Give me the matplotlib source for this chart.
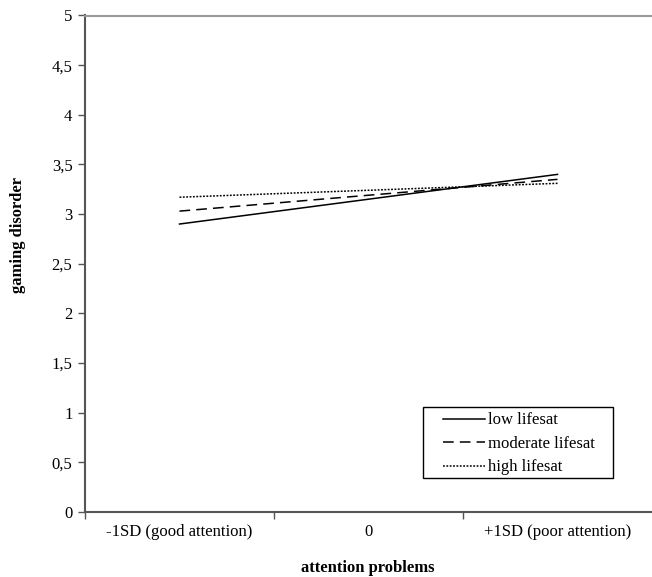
import matplotlib
matplotlib.use("Agg")
import matplotlib.pyplot as plt
from matplotlib.patches import Rectangle

categories = ["-1SD (good attention)", "0", "+1SD (poor attention)"]
series_names = ["low lifesat", "moderate lifesat", "high lifesat"]
low = [2.90, 3.40]
moderate = [3.03, 3.35]
high = [3.17, 3.31]
yticks = [0, 0.5, 1, 1.5, 2, 2.5, 3, 3.5, 4, 4.5, 5]
ytick_labels = ["0", "0,5", "1", "1,5", "2", "2,5", "3", "3,5", "4", "4,5", "5"]

plt.rcParams['font.family'] = ['Liberation Serif', 'DejaVu Serif']

fig = plt.figure(figsize=(6.52, 5.77), dpi=100)
ax = fig.add_axes([85/652, 1-512/577, 1-85/652, (512-15.5)/577])

xs = [0, 2]
ax.plot(xs, low, color='black', lw=1.1, ls='-', label=series_names[0])
ax.plot(xs, moderate, color='black', lw=1.1, ls=(0, (7, 4)), label=series_names[1])
ax.plot(xs, high, color='black', lw=1.1, ls=(0, (1.2, 1.0)), label=series_names[2])

ax.set_xlim(-0.5, 2.5)
ax.set_ylim(0, 5)
ax.set_yticks(yticks)
ax.set_yticklabels(ytick_labels, fontsize=12)
ax.set_xticks([0, 1, 2])
ax.set_xticklabels(categories, fontsize=12)
ax.set_xticks([-0.5, 0.5, 1.5], minor=True)
ax.tick_params(axis='x', which='major', length=0, pad=9)
ax.tick_params(axis='x', which='minor', length=5, width=1, color='#555555')
ax.tick_params(axis='y', length=5, width=1, color='#555555', pad=4)

ax.spines['right'].set_visible(False)
ax.spines['top'].set_color('#999999')
ax.spines['top'].set_linewidth(1.5)
ax.spines['left'].set_color('#555555')
ax.spines['left'].set_linewidth(1.5)
ax.spines['bottom'].set_color('#555555')
ax.spines['bottom'].set_linewidth(1.5)

ax.set_ylabel("gaming disorder", fontsize=12, fontweight='bold')
ax.yaxis.set_label_coords(-(85-18)/567, (512-235)/496.5)
ax.set_xlabel("attention problems", fontsize=12, fontweight='bold')
ax.xaxis.set_label_coords((368-85)/567, -(568-512)/496.5)
ax.xaxis.label.set_va('center')
ax.yaxis.label.set_va('center')

# legend frame
fig.patches.append(Rectangle((423/652, 1-478/577), (613-423)/652, (478-407)/577,
                             transform=fig.transFigure, fill=True, facecolor='white',
                             edgecolor='black', lw=1.0, zorder=5))
leg = fig.legend(loc='upper left', bbox_to_anchor=(440/652, 1-409/577),
                 bbox_transform=fig.transFigure, frameon=False, fontsize=12,
                 handlelength=2.5, handletextpad=0.2, labelspacing=0.45,
                 borderpad=0.2, borderaxespad=0)
leg.set_zorder(6)

fig.savefig("out.png", dpi=100)
